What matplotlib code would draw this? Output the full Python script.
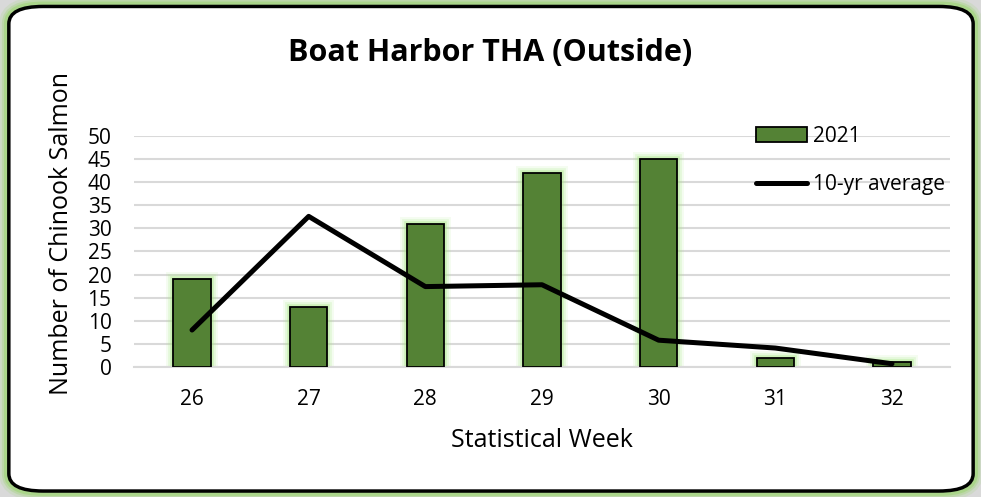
import numpy as np
import matplotlib.pyplot as plt
from matplotlib.patches import FancyBboxPatch
from matplotlib.lines import Line2D
from matplotlib.patches import Patch

# данные графика
weeks = ['26', '27', '28', '29', '30', '31', '32']
counts_2021 = [19, 13, 31, 42, 45, 2, 1]
avg_10yr = [8.0, 32.6, 17.4, 17.8, 5.8, 4.1, 0.7]
y_ticks = [0, 5, 10, 15, 20, 25, 30, 35, 40, 45, 50]

plt.rcParams['font.family'] = ['Open Sans', 'DejaVu Sans']

fig = plt.figure(figsize=(9.81, 4.97), dpi=100, facecolor='#d9d9d9')

# рамка с зелёным свечением
for lw, a in [(14, 0.15), (10, 0.25), (7, 0.4)]:
    fig.patches.append(FancyBboxPatch((0.009, 0.012), 0.983, 0.975,
                                      boxstyle='round,pad=0,rounding_size=0.035',
                                      transform=fig.transFigure, facecolor='none',
                                      edgecolor='#8fd45a', linewidth=lw, alpha=a, zorder=0))
fig.patches.append(FancyBboxPatch((0.009, 0.012), 0.983, 0.975,
                                  boxstyle='round,pad=0,rounding_size=0.035',
                                  transform=fig.transFigure, facecolor='white',
                                  edgecolor='black', linewidth=2.5, zorder=1))

ax = fig.add_axes([0.1363, 0.2616, 0.8324, 0.4648])
ax.set_zorder(5)
ax.set_facecolor('none')
x = np.arange(len(weeks))

# свечение вокруг столбцов
for lw, a in [(10, 0.12), (7, 0.2), (4, 0.4)]:
    ax.bar(x, counts_2021, width=0.32, color='none', edgecolor='#a8e884',
           linewidth=lw, alpha=a, zorder=2)
ax.bar(x, counts_2021, width=0.32, color='#548235', edgecolor='black',
       linewidth=1.3, zorder=3)
ax.plot(x, avg_10yr, color='black', linewidth=3.6, solid_capstyle='round',
        solid_joinstyle='round', zorder=4)

ax.set_xlim(-0.5, len(weeks) - 0.5)
ax.set_ylim(0, 50)
ax.set_yticks(y_ticks)
ax.set_xticks(x)
ax.set_xticklabels(weeks)
ax.tick_params(axis='both', length=0, labelsize=15)
ax.tick_params(axis='x', pad=16)
ax.tick_params(axis='y', pad=16)
ax.grid(axis='y', color='#d9d9d9', linewidth=1.5, zorder=0)
ax.set_axisbelow(True)
for s in ['top', 'right', 'left']:
    ax.spines[s].set_visible(False)
ax.spines['bottom'].set_color('#d9d9d9')
ax.spines['bottom'].set_linewidth(1.5)

ax.set_xlabel('Statistical Week', fontsize=18, labelpad=13)
ax.set_ylabel('Number of Chinook Salmon', fontsize=18)
ax.yaxis.set_label_coords(-0.073, 0.58)
fig.text(0.5, 0.893, 'Boat Harbor THA (Outside)', ha='center', va='center',
         fontsize=22, fontweight='bold', zorder=6)

handles = [Patch(facecolor='#548235', edgecolor='black', linewidth=1.3),
           Line2D([0], [0], color='black', linewidth=3.6, solid_capstyle='round')]
ax.legend(handles, ['2021', '10-yr average'], loc='upper left',
          bbox_to_anchor=(0.739, 1.125), frameon=False, fontsize=15,
          handlelength=2.45, handletextpad=0.3, labelspacing=1.3)

plt.savefig('out.png', dpi=100, facecolor=fig.get_facecolor())
